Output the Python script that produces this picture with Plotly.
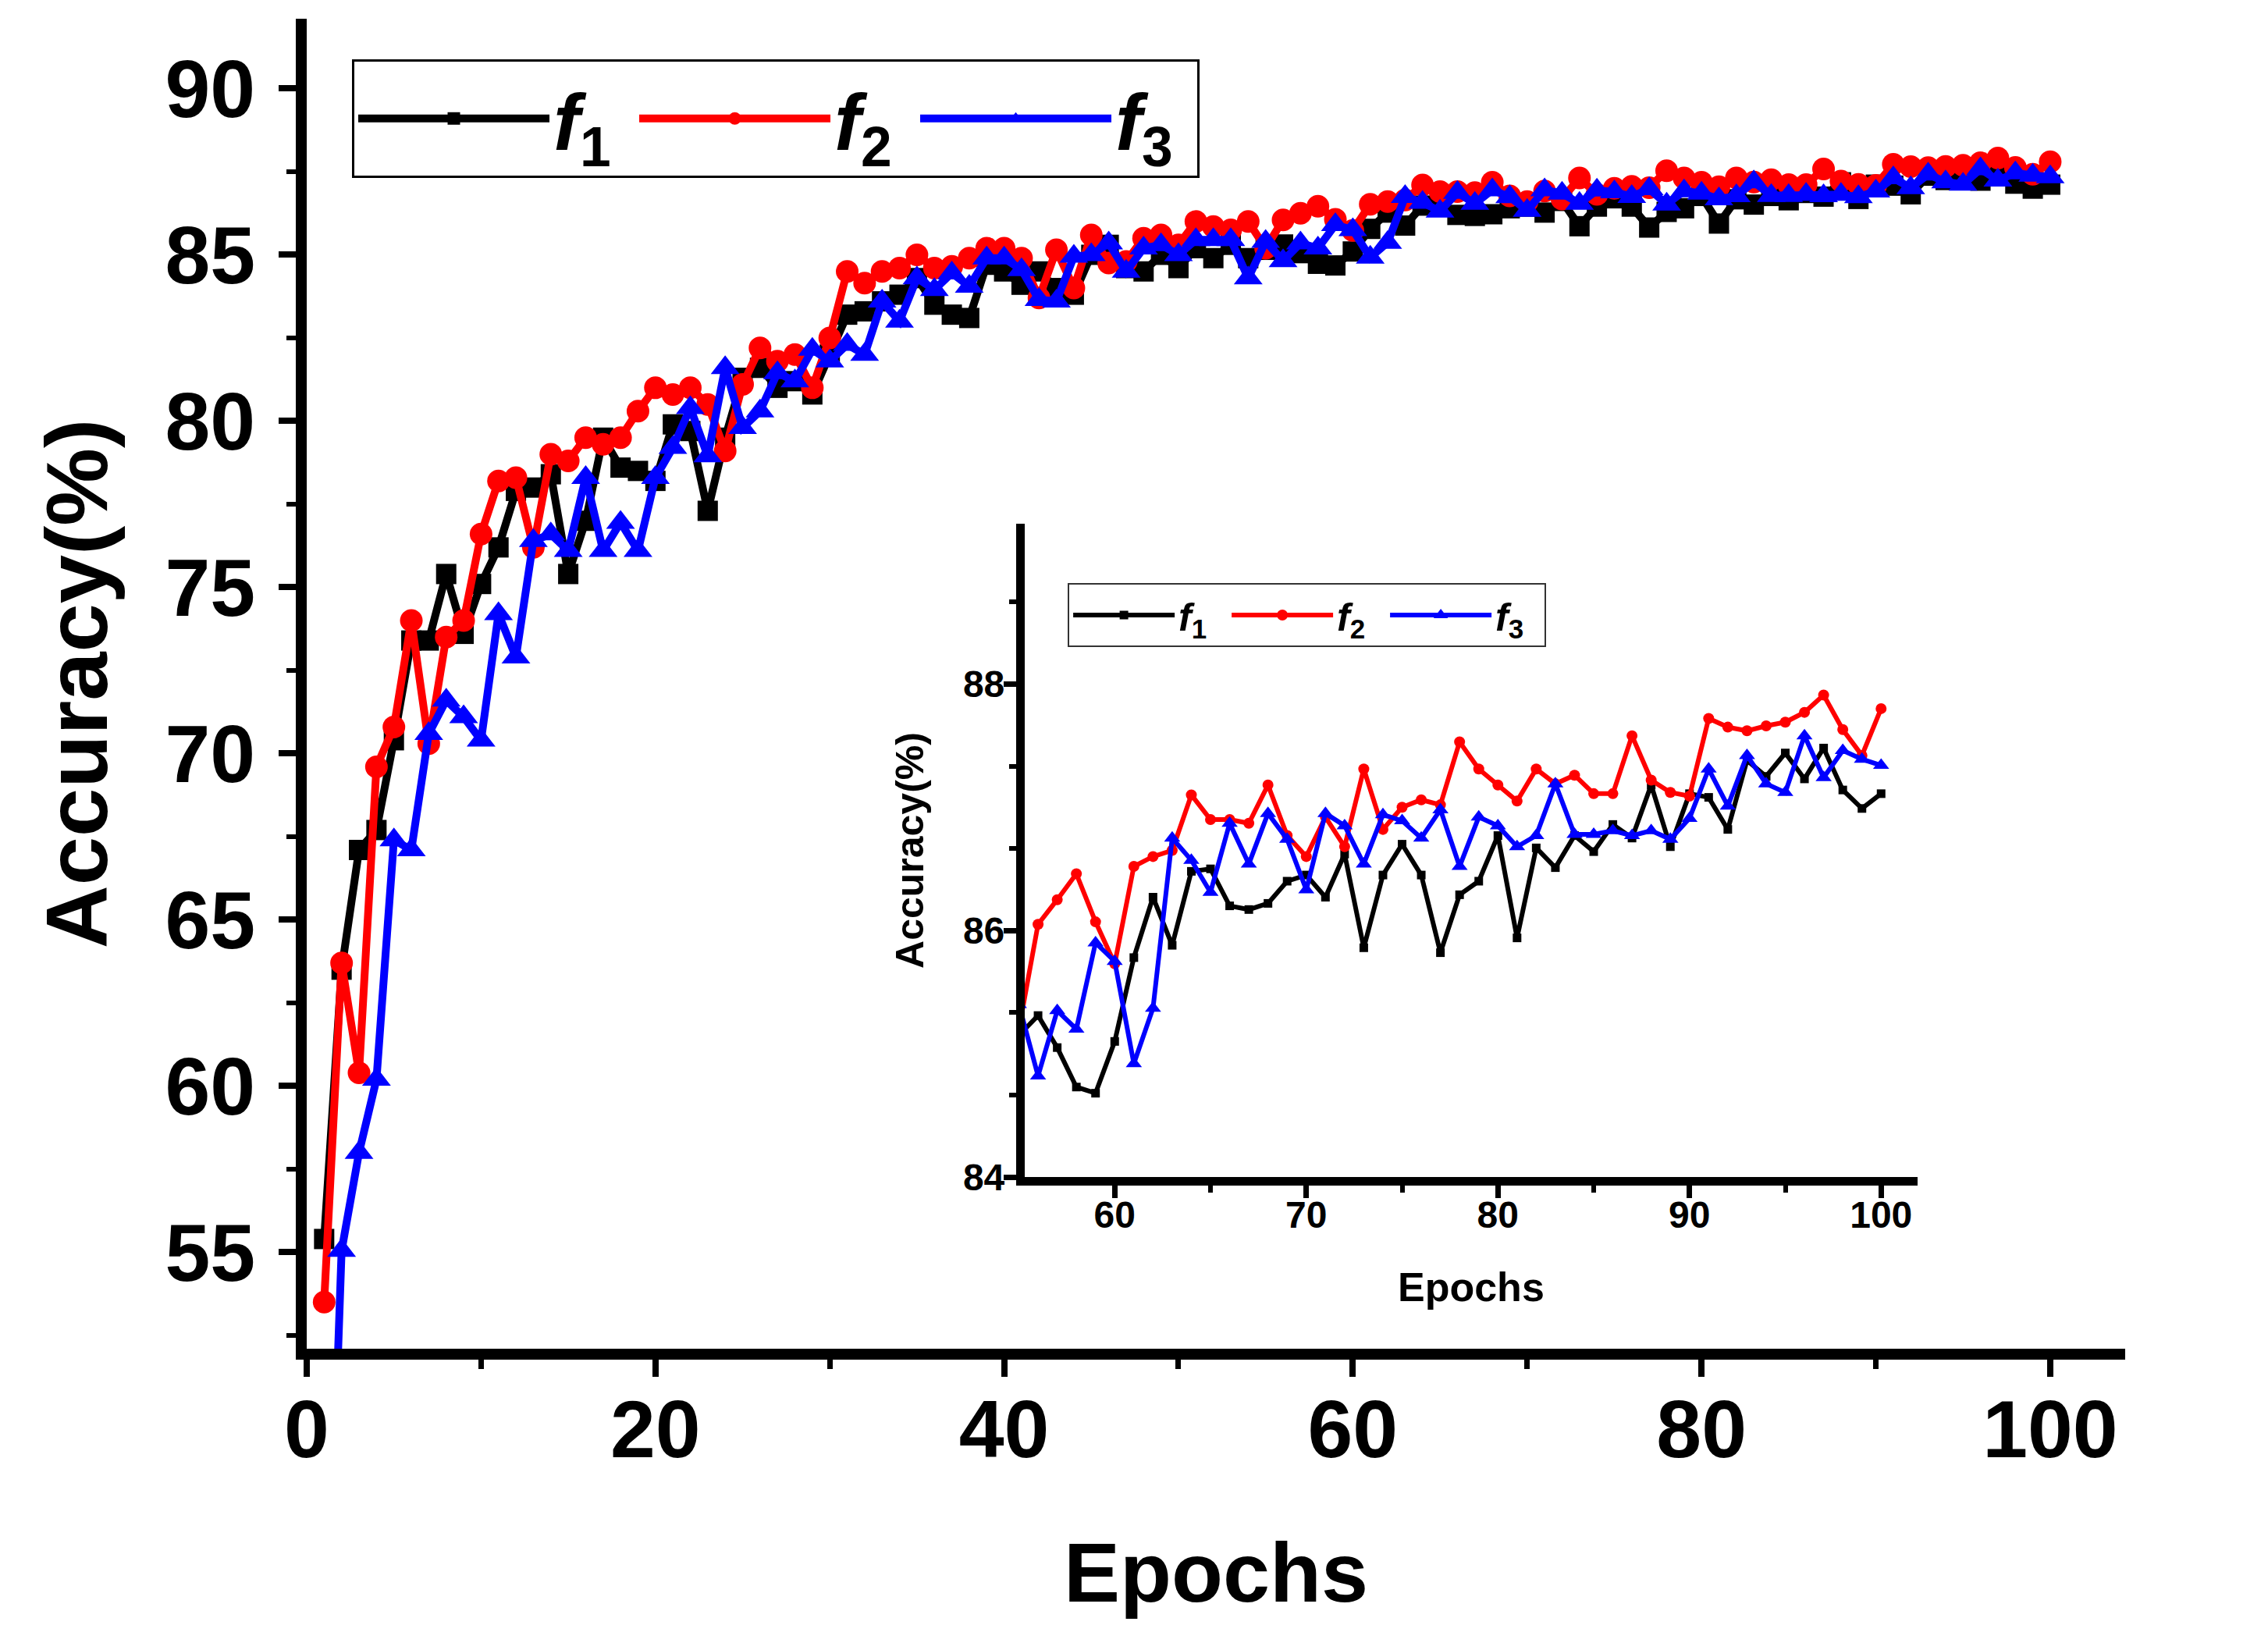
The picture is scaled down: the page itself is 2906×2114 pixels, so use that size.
import plotly.graph_objects as go

# ---------------- data ----------------
epochs = list(range(1, 101))

f1 = [55.4, 63.5, 67.1, 67.7, 70.4, 73.4, 73.4, 75.4, 73.6, 75.1,
      76.2, 77.9, 78.0, 78.4, 75.4, 77.0, 79.5, 78.6, 78.5, 78.2,
      79.9, 79.7, 77.3, 79.5, 81.3, 81.6, 81.0, 81.2, 80.8, 82.0,
      83.2, 83.3, 83.6, 83.8, 84.3, 83.5, 83.2, 83.1, 84.7, 84.5,
      84.1, 84.5, 84.0, 83.8, 85.0, 85.3, 84.6, 84.5, 85.0, 84.6,
      85.2, 84.9, 85.3, 84.9, 85.15, 85.31, 85.05, 84.73, 84.68, 85.10,
      85.78, 86.27, 85.88, 86.48, 86.50, 86.20, 86.17, 86.22, 86.40, 86.45,
      86.27, 86.62, 85.86, 86.45, 86.70, 86.45, 85.82, 86.29, 86.40, 86.77,
      85.94, 86.67, 86.51, 86.77, 86.64, 86.86, 86.75, 87.18, 86.68, 87.11,
      87.08, 86.82, 87.38, 87.25, 87.44, 87.23, 87.48, 87.14, 86.99, 87.11]

f2 = [53.5, 63.7, 60.4, 69.6, 70.8, 74.0, 70.3, 73.5, 74.0, 76.6,
      78.2, 78.3, 76.2, 79.0, 78.8, 79.5, 79.3, 79.5, 80.3, 81.0,
      80.8, 81.0, 80.5, 79.1, 81.1, 82.2, 81.8, 82.0, 81.0, 82.5,
      84.5, 84.15, 84.5, 84.6, 85.0, 84.6, 84.65, 84.9, 85.2, 85.2,
      84.9, 83.7, 85.15, 84.0, 85.6, 84.75, 84.8, 85.5, 85.6, 85.3,
      86.0, 85.85, 85.75, 86.0, 85.2, 86.05, 86.25, 86.46, 86.07, 85.73,
      86.52, 86.60, 86.65, 87.10, 86.90, 86.90, 86.87, 87.18, 86.77, 86.60,
      86.92, 86.68, 87.31, 86.82, 87.00, 87.06, 87.02, 87.53, 87.31, 87.18,
      87.05, 87.31, 87.19, 87.26, 87.11, 87.11, 87.58, 87.22, 87.12, 87.09,
      87.72, 87.65, 87.62, 87.66, 87.69, 87.77, 87.91, 87.63, 87.42, 87.80]

f3 = [40.0, 55.05, 58.0, 60.2, 67.4, 67.1, 70.6, 71.6, 71.1, 70.4,
      74.2, 72.9, 76.4, 76.6, 76.1, 78.3, 76.1, 76.95, 76.1, 78.3,
      79.2, 80.4, 78.95, 81.6, 79.8, 80.3, 81.45, 81.2, 82.15, 81.8,
      82.3, 82.0, 83.6, 83.0, 84.3, 83.95, 84.45, 84.05, 84.9, 84.9,
      84.55, 83.65, 83.6, 84.95, 85.0, 85.35, 84.5, 85.2, 85.3, 85.0,
      85.45, 85.45, 85.45, 84.3, 85.4, 84.82, 85.35, 85.20, 85.90, 85.75,
      84.92, 85.37, 86.75, 86.57, 86.31, 86.87, 86.54, 86.95, 86.74, 86.33,
      86.95, 86.85, 86.54, 86.94, 86.89, 86.75, 86.98, 86.52, 86.92, 86.85,
      86.68, 86.77, 87.19, 86.78, 86.78, 86.81, 86.77, 86.81, 86.74, 86.91,
      87.31, 87.01, 87.42, 87.19, 87.12, 87.58, 87.24, 87.46, 87.39, 87.34]

names = ["<b><i>f</i><sub>1</sub></b>", "<b><i>f</i><sub>2</sub></b>", "<b><i>f</i><sub>3</sub></b>"]
inset_from_epoch = 55

colors = ["#000000", "#FF0000", "#0000FF"]
symbols = ["square", "circle", "triangle-up"]
main_sizes = [26, 29, 32]
inset_sizes = [11, 14, 18]

FONT = "Liberation Sans, Arial, sans-serif"

fig = go.Figure()

# main chart
for name, ys, c, sym, ms in zip(names, [f1, f2, f3], colors, symbols, main_sizes):
    fig.add_trace(go.Scatter(x=epochs, y=ys, name=name, mode="lines+markers",
                             line=dict(color=c, width=10),
                             marker=dict(symbol=sym, size=ms, color=c),
                             xaxis="x", yaxis="y", legend="legend"))

# inset (zoom on the last epochs)
k = epochs.index(inset_from_epoch)
for name, ys, c, sym, ms in zip(names, [f1, f2, f3], colors, symbols, inset_sizes):
    fig.add_trace(go.Scatter(x=epochs[k:], y=ys[k:], name=name, mode="lines+markers",
                             line=dict(color=c, width=6),
                             marker=dict(symbol=sym, size=ms, color=c),
                             xaxis="x2", yaxis="y2", legend="legend2"))

main_tick = dict(family=FONT, size=104, color="black", weight="bold")
inset_tick = dict(family=FONT, size=48, color="black", weight="bold")

fig.update_layout(
    width=2906, height=2114,
    margin=dict(l=385, r=191, t=16, b=394),
    plot_bgcolor="white", paper_bgcolor="white",
    xaxis=dict(domain=[0, 1], range=[0, 104.3], anchor="y",
               showline=True, linecolor="black", linewidth=14, showgrid=False, zeroline=False,
               ticks="outside", ticklen=22, tickwidth=8, tickcolor="black",
               tick0=0, dtick=20, tickfont=main_tick, ticklabelstandoff=-22,
               minor=dict(ticks="outside", dtick=10, ticklen=12, tickwidth=7, tickcolor="black"),
               title=dict(text="Epochs", font=dict(family=FONT, size=108, color="black", weight="bold"),
                          standoff=95)),
    yaxis=dict(domain=[0, 1], range=[52.1, 92.1], anchor="x",
               showline=True, linecolor="black", linewidth=14, showgrid=False, zeroline=False,
               ticks="outside", ticklen=22, tickwidth=8, tickcolor="black",
               tick0=55, dtick=5, tickfont=main_tick, ticklabelstandoff=9,
               minor=dict(ticks="outside", dtick=2.5, ticklen=12, tickwidth=6, tickcolor="black"),
               title=dict(text="Accuracy(%)", font=dict(family=FONT, size=112, color="black", weight="bold"),
                          standoff=42)),
    xaxis2=dict(domain=[0.3948, 0.8858], range=[55.3, 101.9], anchor="y2",
                showline=True, linecolor="black", linewidth=11, showgrid=False, zeroline=False,
                ticks="outside", ticklen=16, tickwidth=7, tickcolor="black",
                tick0=60, dtick=10, tickfont=inset_tick, ticklabelstandoff=-20,
                minor=dict(ticks="outside", dtick=5, ticklen=9, tickwidth=6, tickcolor="black"),
                title=dict(text="Epochs", font=dict(family=FONT, size=52, color="black", weight="bold"),
                           standoff=53)),
    yaxis2=dict(domain=[0.1291, 0.6203], range=[84, 89.3], anchor="x2",
                showline=True, linecolor="black", linewidth=11, showgrid=False, zeroline=False,
                ticks="outside", ticklen=16, tickwidth=7, tickcolor="black",
                tick0=84, dtick=2, tickfont=inset_tick, ticklabelstandoff=-11,
                minor=dict(ticks="outside", tick0=84, dtick=2 / 3, ticklen=9, tickwidth=6, tickcolor="black"),
                title=dict(text="Accuracy(%)", font=dict(family=FONT, size=50, color="black", weight="bold"),
                           standoff=39)),
    legend=dict(x=0.0249, y=0.9695, xanchor="left", yanchor="top", orientation="h",
                bgcolor="white", bordercolor="black", borderwidth=3,
                font=dict(family=FONT, size=102, color="black"),
                itemwidth=245, entrywidth=100, itemsizing="trace"),
    legend2=dict(x=0.4185, y=0.5757, xanchor="left", yanchor="top", orientation="h",
                 bgcolor="white", bordercolor="#333333", borderwidth=2,
                 font=dict(family=FONT, size=50, color="black"),
                 itemwidth=130, entrywidth=58, itemsizing="trace"),
)

fig.write_html("out.html")
